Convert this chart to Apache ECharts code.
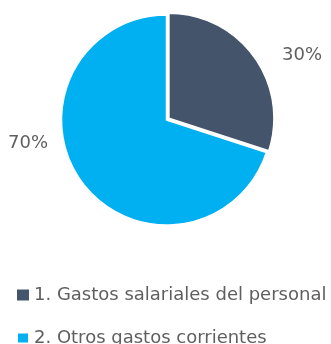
<!DOCTYPE html>
<html>
<head>
<meta charset="utf-8">
<script src="https://cdn.jsdelivr.net/npm/echarts@6/dist/echarts.min.js"></script>
<style>
  html, body { margin: 0; padding: 0; background: #fff; }
  #chart { width: 331px; height: 344px; }
</style>
</head>
<body>
<div id="chart"></div>
<script>
// Budget composition: share of each expense group (percent)
const categories = ['1. Gastos salariales del personal', '2. Otros gastos corrientes'];
const shares = [30, 70];
const colors = ['#44546A', '#00B0F0'];

// Label anchor for each slice (percent text placed beside the pie)
const labelAnchors = [[302, 55], [28, 143]];

const chart = echarts.init(document.getElementById('chart'));
const fontFamily = 'DejaVu Sans, sans-serif';
const textColor = '#5f5f5f';
const center = [166.5, 120];
const radius = 105;
const explode = 3;   // the first slice is pulled out slightly

// One pie layer per slice so the first slice can sit a few pixels out
const total = shares.reduce((a, b) => a + b, 0);
function sliceLayer(idx) {
  const midFrac = (shares.slice(0, idx).reduce((a, b) => a + b, 0) + shares[idx] / 2) / total;
  const ang = midFrac * 2 * Math.PI;         // clockwise from 12 o'clock
  const off = idx === 0 ? explode : 0;
  return {
    type: 'pie',
    center: [center[0] + off * Math.sin(ang), center[1] - off * Math.cos(ang)],
    radius,
    startAngle: 90,
    clockwise: true,
    silent: true,
    itemStyle: { borderColor: '#fff', borderWidth: 1.5 },
    label: {
      show: true,
      position: 'outside',
      formatter: p => p.value + '%',
      fontFamily,
      fontSize: 18,
      color: textColor,
      overflow: 'none'
    },
    labelLine: { show: false },
    labelLayout: () => ({
      x: labelAnchors[idx][0], y: labelAnchors[idx][1],
      align: 'center', verticalAlign: 'middle'
    }),
    emphasis: { disabled: true },
    data: categories.map((name, i) => (i === idx
      ? { name, value: shares[i], itemStyle: { color: colors[i] } }
      : { name, value: shares[i], itemStyle: { color: 'rgba(0,0,0,0)', borderWidth: 0 },
          label: { show: false } }))
  };
}

chart.setOption({
  animation: false,
  legend: {
    orient: 'vertical',
    left: 11,
    top: 280,
    height: 120,
    itemWidth: 12,
    itemHeight: 11,
    itemGap: 23,
    icon: 'rect',
    selectedMode: false,
    textStyle: { fontFamily, fontSize: 18, color: textColor, lineHeight: 20 },
    data: categories.map((name, i) => ({ name, itemStyle: { color: colors[i] } }))
  },
  series: [sliceLayer(1), sliceLayer(0)]
});
</script>
</body>
</html>
